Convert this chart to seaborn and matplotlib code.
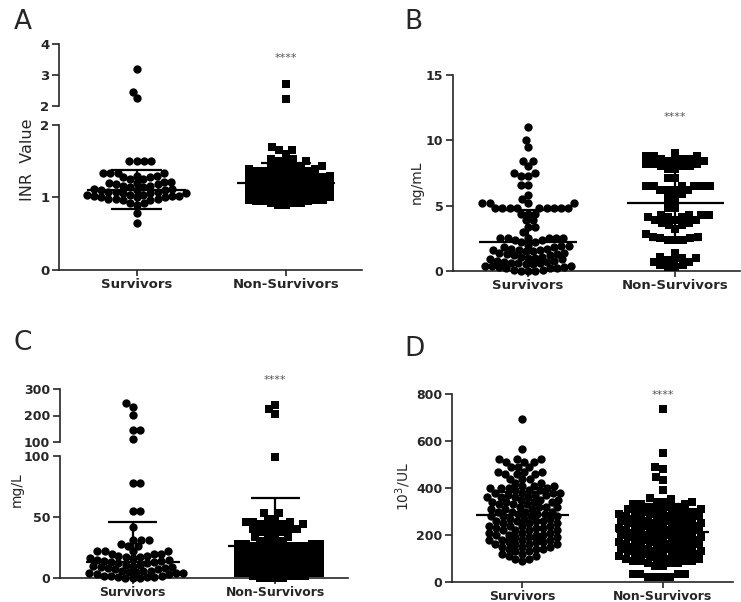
import matplotlib
matplotlib.use("Agg")
import matplotlib.pyplot as plt
import numpy as np
import pandas as pd
import seaborn as sns

CATS = ["Survivors", "Non-Survivors"]

# ---- A: INR (value, count) ----
a_surv_vals = [0.65, 0.78, 0.90, 0.93, 0.96, 0.98, 1.00, 1.02, 1.04, 1.06, 1.08, 1.10, 1.12,
               1.14, 1.16, 1.18, 1.20, 1.22, 1.25, 1.28, 1.30, 1.34, 1.50, 2.26, 2.45, 3.20]
a_surv_n = [1, 1, 1, 2, 2, 3, 3, 3, 3, 3, 3, 3, 2,
            2, 2, 2, 2, 2, 2, 2, 2, 4, 4, 1, 1, 1]
a_ns_vals = [0.90, 0.92, 0.95, 0.97, 1.00, 1.02, 1.05, 1.08, 1.10, 1.12, 1.15, 1.18, 1.20, 1.22,
             1.25, 1.28, 1.30, 1.33, 1.36, 1.40, 1.43, 1.50, 1.53, 1.60, 1.65, 1.69, 2.23, 2.70]
a_ns_n = [2, 3, 3, 3, 3, 3, 3, 3, 3, 3, 3, 3, 3, 3,
          3, 3, 3, 3, 3, 4, 4, 3, 2, 1, 2, 1, 1, 1]
a_mean = [1.11, 1.20]
a_sd = [0.27, 0.28]

# ---- B: ng/mL ----
b_surv_vals = [0.0, 0.1, 0.2, 0.3, 0.4, 0.5, 0.6, 0.7, 0.8, 0.9, 1.0, 1.1, 1.2, 1.3, 1.4, 1.5,
               1.6, 1.7, 1.8, 1.9, 2.0, 2.2, 2.4, 2.55, 2.95, 3.4, 3.9, 4.4, 4.85, 5.2, 5.5,
               5.8, 6.6, 7.3, 7.5, 8.0, 8.4, 9.5, 10.0, 11.0]
b_surv_n = [3, 2, 3, 2, 3, 2, 3, 2, 2, 2, 2, 2, 2, 2, 2, 2,
            3, 2, 2, 2, 1, 2, 2, 6, 1, 2, 2, 3, 9, 4, 1,
            1, 2, 2, 2, 1, 2, 1, 1, 1]
b_ns_vals = [0.3, 0.45, 0.7, 0.85, 1.0, 1.1, 1.4, 2.4, 2.5, 2.6, 2.8, 3.2, 3.5, 3.7, 3.9, 4.1,
             4.3, 4.8, 5.6, 5.9, 6.2, 6.5, 7.1, 7.8, 8.0, 8.2, 8.4, 8.6, 8.8, 9.0]
b_ns_n = [2, 2, 2, 2, 2, 1, 1, 3, 2, 2, 1, 1, 2, 2, 3, 3,
          4, 2, 2, 1, 4, 6, 2, 2, 3, 3, 3, 3, 3, 1]
b_mean = [2.25, 5.2]
b_sd = [2.42, 2.8]

# ---- C: mg/L ----
c_surv_vals = [0, 1, 2, 3, 4, 5, 6, 7, 8, 9, 10, 11, 12, 13, 14, 15, 16, 17, 18,
               20, 22, 26, 28, 31, 42, 55, 78, 110, 145, 202, 233, 246]
c_surv_n = [3, 3, 3, 2, 3, 2, 3, 2, 2, 2, 2, 2, 2, 2, 2, 2, 2, 2, 2,
            3, 4, 2, 1, 3, 1, 2, 2, 1, 2, 1, 1, 1]
c_ns_vals = [0, 2, 4, 6, 8, 10, 12, 14, 16, 18, 20, 22, 24, 26, 28, 30,
             34, 36, 38, 40, 42, 44, 46, 48, 53, 99, 206, 223, 240]
c_ns_n = [4, 4, 4, 4, 4, 4, 4, 4, 4, 4, 4, 4, 4, 4, 4, 4,
          2, 2, 2, 3, 2, 3, 3, 2, 2, 1, 1, 1, 1]
c_mean = [12.9, 26.2]
c_sd = [33.0, 39.0]

# ---- D: 10^3/UL ----
d_surv_vals = [90, 100, 110, 120, 130, 140, 150, 160, 170, 180, 190, 200, 210, 220, 230, 240,
               250, 260, 270, 280, 290, 300, 310, 320, 330, 340, 350, 360, 370, 380, 390, 400,
               410, 420, 440, 460, 470, 490, 510, 525, 565, 694]
d_surv_n = [1, 2, 2, 2, 2, 3, 3, 4, 3, 4, 3, 4, 3, 4, 3, 4,
            3, 4, 3, 4, 3, 4, 3, 4, 3, 4, 3, 4, 3, 4, 3, 4,
            3, 2, 3, 3, 3, 3, 3, 3, 1, 1]
d_ns_vals = [22, 32, 70, 80, 90, 100, 110, 120, 130, 140, 150, 160, 170, 180,
             190, 200, 210, 220, 230, 240, 250, 260, 270, 280, 290, 300, 310, 320, 330, 340,
             352, 356, 391, 434, 448, 481, 488, 548, 735]
d_ns_n = [4, 4, 2, 3, 4, 4, 4, 4, 4, 4, 4, 4, 4, 4,
          4, 4, 4, 4, 4, 4, 4, 4, 4, 4, 4, 4, 4, 3, 3, 3,
          1, 1, 1, 1, 1, 1, 1, 1, 1]
d_mean = [283, 212]
d_sd = [98, 118]

SWARMS = []


def make_df(sv, sn, nv, nn):
    return pd.DataFrame({
        "group": ["Survivors"] * sum(sn) + ["Non-Survivors"] * sum(nn),
        "value": np.concatenate([np.repeat(sv, sn), np.repeat(nv, nn)]),
    })


def draw_dots(ax, df):
    # swarm is laid out with a smaller marker, then drawn bigger so
    # neighbours touch like the GraphPad original
    for grp, mk, lay, sz in zip(CATS, ["o", "s"], [5.0, 5.2], [6.0, 5.8]):
        sub = df[df["group"] == grp]
        if len(sub) == 0:
            continue
        n0 = len(ax.collections)
        sns.swarmplot(data=sub, x="group", y="value", order=CATS, marker=mk,
                      color="black", size=lay, ax=ax, clip_on=False, warn_thresh=1)
        for coll in ax.collections[n0:]:
            SWARMS.append((coll, sz))
    ax.set_xlabel("")
    ax.set_ylabel("")


def mean_sd(ax, means, sds):
    for i, (m, s) in enumerate(zip(means, sds)):
        ax.hlines(m, i - 0.33, i + 0.33, color="black", lw=1.6, zorder=4)
        ax.vlines(i, m - s, m + s, color="black", lw=1.6, zorder=4)
        ax.hlines([m - s, m + s], i - 0.17, i + 0.17, color="black", lw=1.6, zorder=4)


def style(ax, xlim, ylim, yticks, fs, xfs=9.5, show_x=True):
    ax.set_xlim(xlim)
    ax.set_ylim(ylim)
    ax.set_yticks(yticks)
    ax.set_yticklabels([f"{t:g}" for t in yticks], fontsize=fs, fontweight="bold")
    sns.despine(ax=ax)
    ax.tick_params(length=5, width=1.2, pad=2)
    for sp in ["left", "bottom"]:
        ax.spines[sp].set_linewidth(1.2)
    if show_x:
        ax.set_xticks([0, 1])
        ax.set_xticklabels(CATS, fontsize=xfs, fontweight="bold")
        ax.tick_params(axis="x", length=4, pad=1.5)
    else:
        ax.spines["bottom"].set_visible(False)
        ax.tick_params(axis="x", bottom=False, labelbottom=False)


sns.set_style("ticks")
plt.rcParams["font.family"] = ["DejaVu Sans"]

W, H = 741, 602
fig = plt.figure(figsize=(W / 100, H / 100), dpi=100)


def px_axes(x0, x1, ytop, ybot):
    return fig.add_axes([x0 / W, 1 - ybot / H, (x1 - x0) / W, (ybot - ytop) / H])


# ---- Panel A (broken axis) ----
df_a = make_df(a_surv_vals, a_surv_n, a_ns_vals, a_ns_n)
a_lo = px_axes(59, 362, 125, 270)
a_hi = px_axes(59, 362, 44, 106)
draw_dots(a_lo, df_a[df_a["value"] <= 2])
draw_dots(a_hi, df_a[df_a["value"] > 2])
mean_sd(a_lo, a_mean, a_sd)
style(a_lo, (-0.52, 1.51), (0, 2), [0, 1, 2], 9.5)
style(a_hi, (-0.52, 1.51), (2, 4), [2, 3, 4], 9.5, show_x=False)
a_hi.text(1, 3.55, "****", ha="center", va="center", fontsize=8, color="#555555")

# ---- Panel B ----
df_b = make_df(b_surv_vals, b_surv_n, b_ns_vals, b_ns_n)
b_ax = px_axes(453, 740, 75, 271)
draw_dots(b_ax, df_b)
mean_sd(b_ax, b_mean, b_sd)
style(b_ax, (-0.51, 1.44), (0, 15), [0, 5, 10, 15], 9)
b_ax.text(1, 11.8, "****", ha="center", va="center", fontsize=8, color="#555555")

# ---- Panel C (broken axis) ----
df_c = make_df(c_surv_vals, c_surv_n, c_ns_vals, c_ns_n)
c_lo = px_axes(60, 348, 456, 578)
c_hi = px_axes(60, 348, 389, 442)
draw_dots(c_lo, df_c[df_c["value"] <= 100])
draw_dots(c_hi, df_c[df_c["value"] > 100])
mean_sd(c_lo, c_mean, c_sd)
style(c_lo, (-0.51, 1.51), (0, 100), [0, 50, 100], 9, xfs=9)
style(c_hi, (-0.51, 1.51), (100, 300), [100, 200, 300], 9, show_x=False)
c_hi.text(1, 334, "****", ha="center", va="center", fontsize=8, color="#555555")

# ---- Panel D ----
df_d = make_df(d_surv_vals, d_surv_n, d_ns_vals, d_ns_n)
d_ax = px_axes(452, 733, 394, 582)
draw_dots(d_ax, df_d)
mean_sd(d_ax, d_mean, d_sd)
style(d_ax, (-0.50, 1.50), (0, 800), [0, 200, 400, 600, 800], 9, xfs=9)
d_ax.text(1, 796, "****", ha="center", va="center", fontsize=8, color="#555555")

# y labels and panel letters
fig.text(28 / W, 1 - 160 / H, "INR  Value", rotation=90, ha="center", va="center", fontsize=11.5)
fig.text(417 / W, 1 - 182 / H, "ng/mL", rotation=90, ha="center", va="center", fontsize=10)
fig.text(17 / W, 1 - 490 / H, "mg/L", rotation=90, ha="center", va="center", fontsize=10)
fig.text(403 / W, 1 - 487 / H, "10$^3$/UL", rotation=90, ha="center", va="center", fontsize=10)

for lab, (x, y) in zip("ABCD", [(23, 22), (413, 22), (23, 343), (414, 349)]):
    fig.text(x / W, 1 - y / H, lab, ha="center", va="center", fontsize=19)

# freeze the swarm positions, then enlarge the markers
fig.canvas.draw()
for coll, sz in SWARMS:
    coll.__dict__.pop("draw", None)
    coll.set_sizes([sz ** 2])

fig.savefig("out.png", dpi=100)
